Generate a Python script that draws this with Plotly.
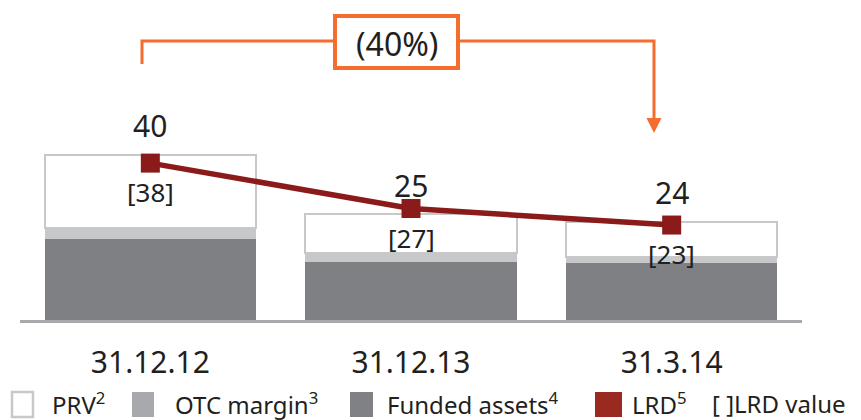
import plotly.graph_objects as go

# ---- data ----
categories = ["31.12.12", "31.12.13", "31.3.14"]
funded_assets = [19.6, 14.0, 13.8]
otc_margin = [2.7, 2.2, 1.5]
prv = [17.7, 9.4, 8.5]
lrd = [40, 25, 24]
lrd_value = [38, 27, 23]
change_label = "(40%)"
legend_labels = ["PRV<sup>2</sup>", "OTC margin<sup>3</sup>", "Funded assets<sup>4</sup>",
                 "LRD<sup>5</sup>", "[ ]LRD value"]

# ---- style ----
FONT = "Noto Sans"
TXT = "#231f20"
ORANGE = "#f36d2c"
LINE_RED = "#8b1a1a"
C_PRV_EDGE = "#c8c8c8"
C_OTC = "#c7c8ca"
C_FUND = "#7f8084"
W, H = 861, 420
PL, PR, PT, PB = 20, 802, 0, 320


def px(x):
    return (x - PL) / (PR - PL)


def py(y):
    return (PB - y) / (PB - PT)


fig = go.Figure()
fig.add_trace(go.Bar(x=categories, y=funded_assets, marker=dict(color=C_FUND, line=dict(width=0)),
                     name="Funded assets", hoverinfo="skip"))
fig.add_trace(go.Bar(x=categories, y=otc_margin, marker=dict(color=C_OTC, line=dict(width=0)),
                     name="OTC margin", hoverinfo="skip"))
fig.add_trace(go.Bar(x=categories, y=prv, marker=dict(color="white", line=dict(color=C_PRV_EDGE, width=2)),
                     name="PRV", hoverinfo="skip"))
fig.add_trace(go.Scatter(x=categories, y=lrd_value, mode="lines+markers",
                         line=dict(color=LINE_RED, width=5.5),
                         marker=dict(symbol="square", size=19, color=LINE_RED),
                         name="LRD", hoverinfo="skip"))

annotations = []
tops = [f + o + p for f, o, p in zip(funded_assets, otc_margin, prv)]
for c, t, v in zip(categories, tops, lrd):
    annotations.append(dict(x=c, y=t, xref="x", yref="y", text=str(v), showarrow=False,
                            yanchor="middle", yshift=29, font=dict(family=FONT, size=30, color=TXT)))
for c, v in zip(categories, lrd_value):
    annotations.append(dict(x=c, y=v, xref="x", yref="y", text=f"[{v}]", showarrow=False,
                            yanchor="middle", yshift=-29, font=dict(family=FONT, size=26, color=TXT)))

# change bracket
shapes = [
    dict(type="path", xref="paper", yref="paper",
         path=f"M {px(142)},{py(64)} L {px(142)},{py(41)} L {px(335)},{py(41)}",
         line=dict(color=ORANGE, width=3)),
    dict(type="path", xref="paper", yref="paper",
         path=f"M {px(458)},{py(41)} L {px(654)},{py(41)} L {px(654)},{py(120)}",
         line=dict(color=ORANGE, width=3)),
    dict(type="path", xref="paper", yref="paper",
         path=f"M {px(646.5)},{py(118)} L {px(661.5)},{py(118)} L {px(654)},{py(133)} Z",
         fillcolor=ORANGE, line=dict(color=ORANGE, width=0)),
    dict(type="rect", xref="paper", yref="paper",
         x0=px(335), x1=px(458), y0=py(68), y1=py(16),
         line=dict(color=ORANGE, width=4), fillcolor="white"),
]
annotations.append(dict(x=px(397), y=py(44), xref="paper", yref="paper", text=change_label,
                        showarrow=False, xanchor="center", yanchor="middle",
                        font=dict(family=FONT, size=32, color=TXT)))

# manual legend
sw = [(12, 33, "white", C_PRV_EDGE), (132, 154, "#a7a9ac", None), (350, 373, "#808184", None),
      (595, 622, "#9a2a20", None)]
for x0, x1, fc, lc in sw:
    shapes.append(dict(type="rect", xref="paper", yref="paper", x0=px(x0), x1=px(x1),
                       y0=py(417), y1=py(392), fillcolor=fc,
                       line=dict(color=lc if lc else fc, width=2.5 if lc else 0)))
text_x = [50, 173, 385, 630, 710]
for tx, lab in zip(text_x, legend_labels):
    annotations.append(dict(x=px(tx), y=py(403), xref="paper", yref="paper", text=lab,
                            showarrow=False, xanchor="left", yanchor="middle",
                            font=dict(family=FONT, size=24, color=TXT)))

fig.update_layout(
    width=W, height=H,
    margin=dict(l=PL, r=W - PR, t=PT, b=H - PB),
    barmode="stack", bargap=0.19,
    plot_bgcolor="white", paper_bgcolor="white",
    showlegend=False,
    shapes=shapes, annotations=annotations,
    xaxis=dict(range=[-0.5, 2.5], showline=True, linecolor="#a7a9ac", linewidth=2.5,
               showgrid=False, zeroline=False, ticks="", ticklabelstandoff=14,
               tickfont=dict(family=FONT, size=30, color=TXT), fixedrange=True),
    yaxis=dict(range=[0, 77.5], visible=False, fixedrange=True),
)
fig.write_html("out.html", config={"displayModeBar": False},
               post_script="document.body.style.margin='0';document.body.style.overflow='hidden';")
